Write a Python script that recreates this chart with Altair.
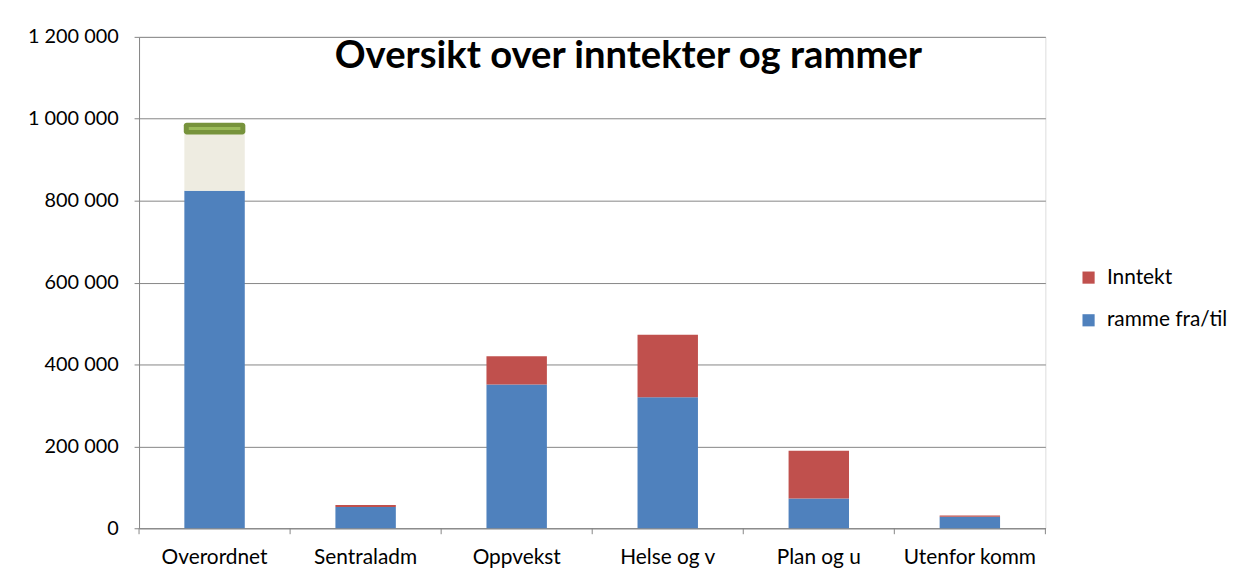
import altair as alt
import pandas as pd

categories = ["Overordnet", "Sentraladm", "Oppvekst", "Helse og v", "Plan og u", "Utenfor komm"]
ramme = [824000, 52000, 351000, 320000, 72500, 28300]
inntekt = [152000, 4600, 69000, 152500, 117000, 3100]
series_names = ["Inntekt", "ramme fra/til"]
series_colors = ["#C0504D", "#4F81BD"]
highlight_category = "Overordnet"
highlight_fill = "#EEECE1"
title_text = "Oversikt over inntekter og rammer"
y_ticks = [0, 200000, 400000, 600000, 800000, 1000000, 1200000]

rows = []
for c, r, i in zip(categories, ramme, inntekt):
    rows.append({"cat": c, "series": "ramme fra/til", "value": r, "ord": 0, "hl": False})
    rows.append({"cat": c, "series": "Inntekt", "value": i, "ord": 1, "hl": c == highlight_category})
df = pd.DataFrame(rows)
totals = pd.DataFrame({"cat": categories, "total": [r + i for r, i in zip(ramme, inntekt)]})
marker = totals[totals["cat"] == highlight_category]

W, H = 913, 495
FONT = "Lato"
GRAY = "#868686"

xscale = alt.Scale(paddingInner=0, paddingOuter=0)
yscale = alt.Scale(domain=[0, 1200000])

x = alt.X("cat:N", sort=categories, scale=xscale,
          axis=alt.Axis(title=None, labelAngle=0, ticks=False, domainColor=GRAY,
                        labelFontSize=21, labelPadding=19, labelFont=FONT, labelColor="#000"))
y = alt.Y("value:Q", stack=True, scale=yscale,
          axis=alt.Axis(values=y_ticks, title=None, grid=True, gridColor=GRAY, domainColor=GRAY,
                        tickColor=GRAY, tickSize=5, labelPadding=16, labelFontSize=20,
                        labelFont=FONT, labelColor="#000",
                        labelExpr="replace(format(datum.value, ','), regexp(',', 'g'), ' ')"))

bars = alt.Chart(df).mark_bar(width=alt.RelativeBandSize(0.4)).encode(
    x=x,
    y=y,
    order=alt.Order("ord:Q"),
    color=alt.condition(
        "datum.hl",
        alt.value(highlight_fill),
        alt.Color("series:N", scale=alt.Scale(domain=series_names, range=series_colors),
                  legend=alt.Legend(title=None, orient="none", legendX=946, legendY=232,
                                    symbolType="square", symbolSize=150, labelFontSize=21,
                                    labelFont=FONT, labelColor="#000", rowPadding=21,
                                    symbolStrokeWidth=0, labelOffset=8, padding=0)),
    ),
)

marker_outer = alt.Chart(marker).mark_tick(color="#77933C", thickness=12, size=62, cornerRadius=3, opacity=1).encode(
    x=alt.X("cat:N", sort=categories), y=alt.Y("total:Q", scale=yscale))
marker_inner = alt.Chart(marker).mark_tick(color="#9BBB59", thickness=3, size=52, opacity=1).encode(
    x=alt.X("cat:N", sort=categories), y=alt.Y("total:Q", scale=yscale))

tick_df = pd.DataFrame({"cat": categories})
xticks = alt.Chart(tick_df).mark_rule(color=GRAY).encode(
    x=alt.X("cat:N", sort=categories, bandPosition=0),
    y=alt.value(H), y2=alt.value(H + 6))
xtick_end = alt.Chart(tick_df.tail(1)).mark_rule(color=GRAY).encode(
    x=alt.X("cat:N", sort=categories, bandPosition=1),
    y=alt.value(H), y2=alt.value(H + 6))

title = alt.Chart(pd.DataFrame({"t": [title_text]})).mark_text(
    font=FONT, fontSize=38.5, fontWeight="bold", align="center", baseline="middle", color="#000"
).encode(text="t:N", x=alt.value(493), y=alt.value(19))

chart = alt.layer(bars, marker_outer, marker_inner, xticks, xtick_end, title).properties(
    width=W, height=H,
    padding={"left": 19, "top": 17, "right": 5, "bottom": 5},
).configure_view(stroke=None).configure(background="white")

chart.save("out.html", embed_options={"renderer": "svg", "actions": False})
